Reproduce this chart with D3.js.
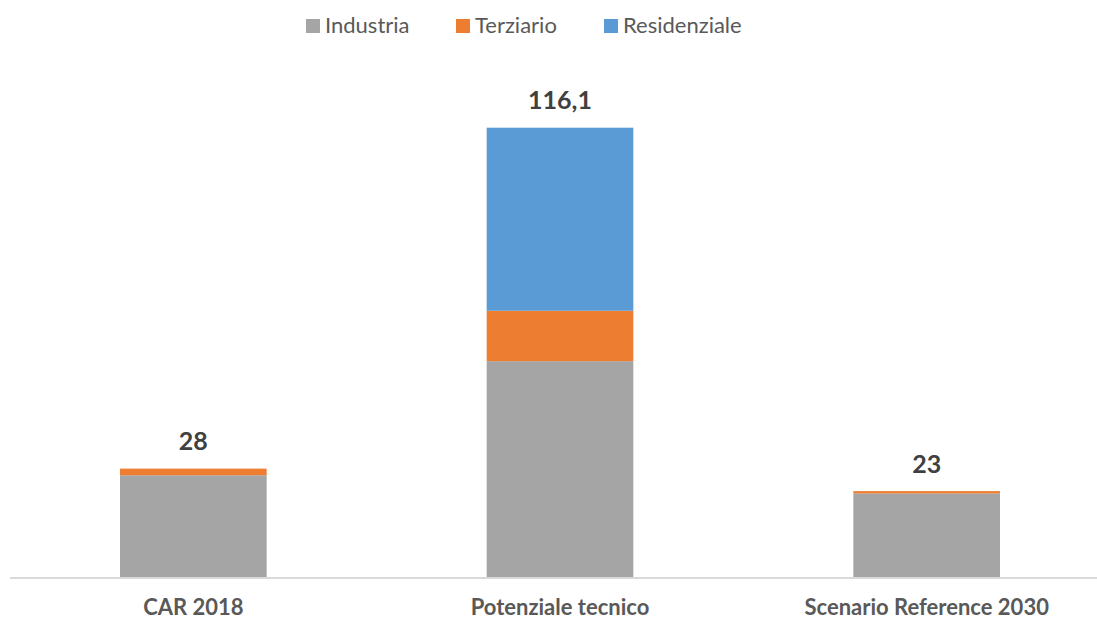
<!DOCTYPE html>
<html>
<head>
<meta charset="utf-8">
<script src="https://cdn.jsdelivr.net/npm/d3@7/dist/d3.min.js"></script>
<style>
  body { margin: 0; background: #fff; }
  svg text { font-family: Lato, "Open Sans", sans-serif; }
</style>
</head>
<body>
<div id="chart"></div>
<script>
// dati
var categorie = ["CAR 2018", "Potenziale tecnico", "Scenario Reference 2030"];
var serie = ["Industria", "Terziario", "Residenziale"];
var industria = [26.5, 55.9, 21.8];
var terziario = [1.7, 13.0, 0.6];
var residenziale = [0, 47.2, 0];
var etichette = ["28", "116,1", "23"];
var colori = ["#a5a5a5", "#ed7d31", "#5b9bd5"];

var W = 1097, H = 619;
var baseY = 578, topY = 127.7;

var svg = d3.select("#chart")
  .append("svg")
  .attr("width", W)
  .attr("height", H);

// tabella per lo stack
var tabella = categorie.map(function(c, i) {
  return { cat: c, Industria: industria[i], Terziario: terziario[i], Residenziale: residenziale[i] };
});
var stacked = d3.stack().keys(serie)(tabella);

var x = d3.scaleBand()
  .domain(categorie)
  .range([10, 1110])
  .paddingInner(0.6)
  .paddingOuter(0.3);

var totMax = d3.max(tabella, function(d) { return d.Industria + d.Terziario + d.Residenziale; });
var y = d3.scaleLinear()
  .domain([0, totMax])
  .range([baseY, topY]);

var colore = d3.scaleOrdinal().domain(serie).range(colori);

// barre
svg.append("g")
  .selectAll("g")
  .data(stacked)
  .enter()
  .append("g")
    .attr("fill", function(d) { return colore(d.key); })
  .selectAll("rect")
  .data(function(d) { return d; })
  .enter()
  .append("rect")
    .attr("x", function(d) { return x(d.data.cat); })
    .attr("y", function(d) { return y(d[1]); })
    .attr("width", x.bandwidth())
    .attr("height", function(d) { return y(d[0]) - y(d[1]); });

// asse orizzontale
svg.append("line")
  .attr("x1", 10).attr("x2", W)
  .attr("y1", baseY).attr("y2", baseY)
  .attr("stroke", "#d9d9d9")
  .attr("stroke-width", 2);

var xAxis = svg.append("g")
  .attr("transform", "translate(0," + baseY + ")")
  .call(d3.axisBottom(x).tickSize(0).tickPadding(0));
xAxis.select(".domain").remove();
xAxis.selectAll("text")
  .attr("y", 37)
  .attr("dy", null)
  .style("font-family", "Lato, sans-serif")
  .style("font-size", "22px")
  .style("font-weight", "bold")
  .style("fill", "#595959");

// etichette dei totali
svg.append("g")
  .selectAll("text")
  .data(tabella)
  .enter()
  .append("text")
    .attr("x", function(d) { return x(d.cat) + x.bandwidth() / 2; })
    .attr("y", function(d) { return y(d.Industria + d.Terziario + d.Residenziale) - 18.5; })
    .attr("text-anchor", "middle")
    .style("font-size", "25px")
    .style("font-weight", "bold")
    .style("fill", "#404040")
    .text(function(d, i) { return etichette[i]; });

// legenda
var legX = [306, 456, 604];
var legenda = svg.append("g")
  .selectAll("g")
  .data(serie)
  .enter()
  .append("g")
    .attr("transform", function(d, i) { return "translate(" + legX[i] + ",19)"; });
legenda.append("rect")
  .attr("width", 14).attr("height", 14)
  .attr("fill", function(d) { return colore(d); });
legenda.append("text")
  .attr("x", 19).attr("y", 14)
  .style("font-size", "22px")
  .style("fill", "#595959")
  .text(function(d) { return d; });
</script>
</body>
</html>
